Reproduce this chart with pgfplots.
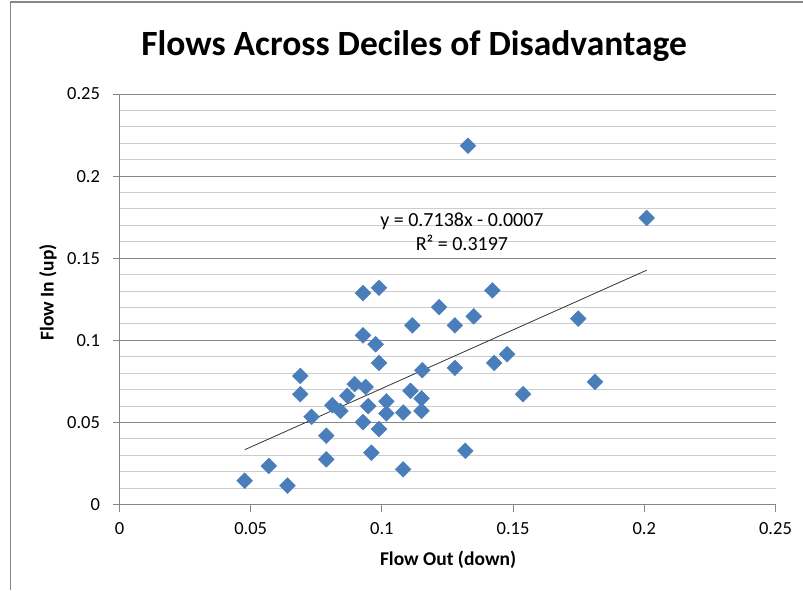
\documentclass[border=0pt]{standalone}
\usepackage{pgfplots}
\pgfplotsset{compat=1.18}
\usepackage{pgfplotstable}
\usepackage{fontspec}
\setmainfont{Carlito}
\definecolor{xlblue}{HTML}{4A7EBB}
\definecolor{gridmaj}{HTML}{868686}
\definecolor{gridmin}{HTML}{CDCDCD}
\pgfplotstableread{
x y
0.1328 0.2185
0.2009 0.1745
0.1748 0.1132
0.1812 0.0747
0.1538 0.0672
0.1477 0.0915
0.1428 0.0862
0.1421 0.1304
0.1350 0.1146
0.1278 0.1091
0.1278 0.0832
0.1318 0.0327
0.1218 0.1202
0.1116 0.1091
0.1154 0.0818
0.1109 0.0692
0.1151 0.0646
0.1151 0.0570
0.1081 0.0560
0.1081 0.0214
0.1017 0.0628
0.1017 0.0555
0.0989 0.0459
0.0989 0.1320
0.0928 0.1287
0.0976 0.0976
0.0989 0.0862
0.0928 0.1030
0.0938 0.0716
0.0896 0.0733
0.0948 0.0599
0.0928 0.0502
0.0960 0.0315
0.0868 0.0662
0.0842 0.0570
0.0811 0.0605
0.0788 0.0419
0.0788 0.0275
0.0732 0.0534
0.0689 0.0783
0.0689 0.0672
0.0569 0.0235
0.0477 0.0145
0.0640 0.0115
}\flows
\begin{document}
\begin{tikzpicture}[x=1pt,y=1pt]
\useasboundingbox (0,0) rectangle (803,590);
\draw[color=gridmaj, line width=1.2pt] (10.5,0) -- (10.5,588) -- (803,588);
\begin{axis}[
  at={(119.5pt,85.5pt)}, anchor=south west,
  scale only axis, width=656pt, height=410.5pt,
  xmin=0, xmax=0.25, ymin=0, ymax=0.25,
  xtick={0,0.05,0.1,0.15,0.2,0.25},
  xticklabels={0,0.05,0.1,0.15,0.2,0.25},
  ytick={0,0.05,0.1,0.15,0.2,0.25},
  yticklabels={0,0.05,0.1,0.15,0.2,0.25},
  minor ytick={0.01,0.02,0.03,0.04,0.06,0.07,0.08,0.09,0.11,0.12,0.13,0.14,0.16,0.17,0.18,0.19,0.21,0.22,0.23,0.24},
  ymajorgrids, yminorgrids,
  major grid style={gridmaj, line width=0.9pt},
  minor grid style={gridmin, line width=0.9pt},
  axis x line=bottom, axis y line=left,
  axis line style={gridmaj, line width=0.9pt, -},
  tick align=outside, major tick length=7pt, minor tick length=0pt,
  tick style={gridmaj, line width=0.9pt},
  /pgf/number format/assume math mode=true,
  tick label style={font=\fontsize{18.5}{21}\selectfont, black},
  xticklabel style={yshift=-7pt},
  yticklabel style={xshift=-9pt},
  title={Flows Across Deciles of Disadvantage},
  title style={at={(axis description cs:0.449,1.080)}, anchor=base, font=\bfseries\fontsize{35.5}{42}\selectfont},
  xlabel={Flow Out (down)},
  xlabel style={at={(axis description cs:0.5008,-0.1352)}, anchor=center, font=\bfseries\fontsize{19.5}{23}\selectfont},
  ylabel={Flow In (up)},
  ylabel style={at={(axis description cs:-0.109,0.5164)}, anchor=center, rotate=0, font=\bfseries\fontsize{19.5}{23}\selectfont},
  clip=false,
]
\addplot[only marks, mark=square*, mark size=5.6pt, mark options={rotate=45, fill=xlblue, draw=xlblue}] table[x=x,y=y] {\flows};
\addplot[no marks, color=black!80, line width=0.8pt] coordinates {(0.0477,0.03335) (0.2009,0.1427)};
\node[anchor=base, font=\fontsize{20}{24}\selectfont] at (axis cs:0.1305,0.1692) {y = 0.7138x - 0.0007};
\node[anchor=base, font=\fontsize{20}{24}\selectfont] at (axis cs:0.1305,0.1546) {R² = 0.3197};
\end{axis}
\end{tikzpicture}
\end{document}
